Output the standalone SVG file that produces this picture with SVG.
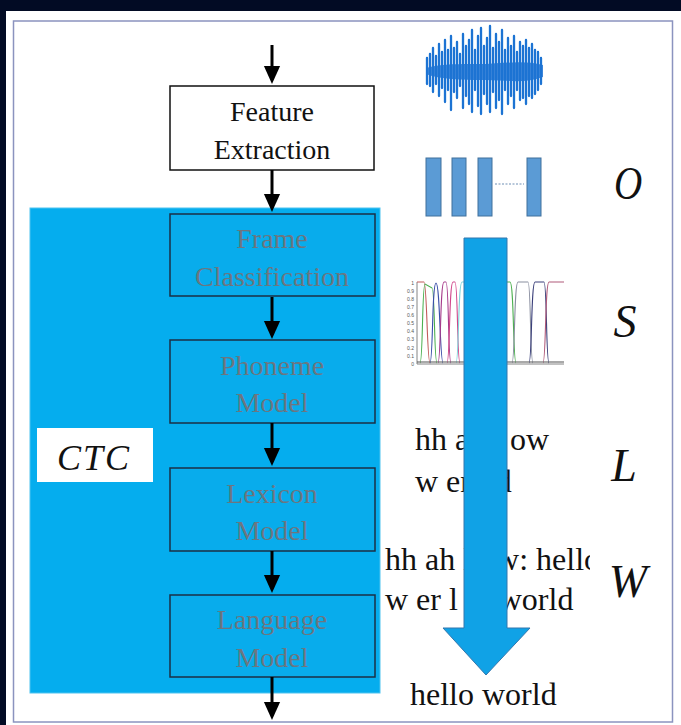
<svg xmlns="http://www.w3.org/2000/svg" width="681" height="725" viewBox="0 0 681 725">
<style>
.box{stroke:#1b2f45;stroke-width:1.5}
.fe{fill:#ffffff;stroke:#111;stroke-width:1.5}
.inner{fill:#08acec}
.bt{font-family:"Liberation Serif","Times New Roman",serif;font-size:28px;text-anchor:middle}
.gt{fill:#6c7680}
.kt{fill:#111}
.txt{font-family:"Liberation Serif","Times New Roman",serif;font-size:32px;fill:#111}
.sym{font-family:"Liberation Serif","Times New Roman",serif;font-style:italic;font-size:46px;fill:#111;text-anchor:middle}
.conn{stroke:#000;stroke-width:3;fill:none}
.bar{fill:#5b9bd5;stroke:#41719c;stroke-width:1}
.crv{fill:none;stroke-width:1.1}
.tick{font-family:"Liberation Sans",sans-serif;font-size:5px;fill:#555;text-anchor:end}
</style>
<defs>
<marker id="ah" markerUnits="userSpaceOnUse" markerWidth="18" markerHeight="20" viewBox="0 0 20 18" refX="0" refY="9" orient="auto">
<path d="M0,0 L20,9 L0,18 z" fill="#000"/>
</marker>
<filter id="blur" x="-10%" y="-10%" width="120%" height="120%"><feGaussianBlur stdDeviation="0.6"/></filter>
<clipPath id="clipTxt"><rect x="380" y="530" width="210" height="60"/></clipPath>
</defs>

<rect x="0" y="0" width="681" height="725" fill="#020b24"/>
<rect x="6" y="11" width="675" height="714" fill="#ffffff"/>
<rect x="13.5" y="21" width="659" height="701" fill="#ffffff" stroke="#8b93bf" stroke-width="1.5"/>

<g id="ctc-region">
<rect x="30" y="208" width="350" height="485" fill="#05adee" stroke="#4fc3f0" stroke-width="1"/>
</g>

<g id="ctc-label">
<rect x="37" y="428" width="116" height="54" fill="#ffffff"/>
<text x="94" y="470" font-family="Liberation Serif, serif" font-style="italic" font-size="36" fill="#111" text-anchor="middle" letter-spacing="2">CTC</text>
</g>

<g id="feature-extraction">
<rect class="fe" x="170" y="86" width="204" height="84"/>
<text class="bt kt" x="272" y="121">Feature</text>
<text class="bt kt" x="272" y="159">Extraction</text>
</g>

<g id="frame-classification">
<rect class="box inner" x="170" y="214" width="205" height="82"/>
<text class="bt gt" x="272" y="248">Frame</text>
<text class="bt gt" x="272" y="286">Classification</text>
</g>

<g id="phoneme-model">
<rect class="box inner" x="170" y="340" width="205" height="83"/>
<text class="bt gt" x="272" y="375">Phoneme</text>
<text class="bt gt" x="272" y="412">Model</text>
</g>

<g id="lexicon-model">
<rect class="box inner" x="170" y="468" width="205" height="83"/>
<text class="bt gt" x="272" y="503">Lexicon</text>
<text class="bt gt" x="272" y="540">Model</text>
</g>

<g id="language-model">
<rect class="box inner" x="170" y="595" width="205" height="82"/>
<text class="bt gt" x="272" y="629">Language</text>
<text class="bt gt" x="272" y="667">Model</text>
</g>

<g id="connectors">
<line class="conn" x1="272" y1="45" x2="272" y2="66" marker-end="url(#ah)"/>
<line class="conn" x1="272" y1="170" x2="272" y2="194" marker-end="url(#ah)"/>
<line class="conn" x1="272" y1="297" x2="272" y2="321" marker-end="url(#ah)"/>
<line class="conn" x1="272" y1="423" x2="272" y2="448" marker-end="url(#ah)"/>
<line class="conn" x1="272" y1="551" x2="272" y2="575" marker-end="url(#ah)"/>
<line class="conn" x1="272" y1="677" x2="272" y2="702" marker-end="url(#ah)"/>
</g>

<g id="waveform" filter="url(#blur)">
<path d="M426,68 C440,63 470,64 486,64 C505,63 525,60 543,65 L543,77 C525,84 505,80 486,80 C470,80 440,80 426,74 Z" fill="#1f73d3" opacity="0.85"/>
<path stroke="#1f73d3" stroke-width="2.3" stroke-linecap="round" fill="none" d="
M427,58 V84 M430,54 V86 M433,48 V92 M436,56 V84 M439,44 V96 M442,52 V88 M445,40 V102 M448,50 V90 M451,36 V110 M454,48 V92
M457,42 V98 M460,54 V86 M463,34 V108 M466,46 V96 M469,40 V104 M472,30 V112 M475,50 V90 M478,36 V106 M481,28 V114 M484,46 V94
M487,38 V104 M490,26 V112 M493,48 V92 M496,34 V108 M499,42 V100 M502,30 V114 M505,50 V90 M508,38 V104 M511,46 V96 M514,36 V108
M517,52 V90 M520,42 V100 M523,46 V98 M526,40 V104 M529,48 V96 M532,44 V98 M535,50 V94 M538,52 V90 M541,58 V84"/>
</g>

<g id="feature-bars">
<rect class="bar" x="426" y="158" width="15" height="58"/>
<rect class="bar" x="452" y="158" width="14" height="58"/>
<rect class="bar" x="478" y="158" width="14" height="58"/>
<rect class="bar" x="527" y="158" width="14" height="58"/>
<line x1="495" y1="184" x2="524" y2="184" stroke="#6f8fb5" stroke-width="1" stroke-dasharray="2,1.5"/>
</g>

<g id="posterior-plot">
<line x1="417" y1="282" x2="417" y2="364" stroke="#666" stroke-width="0.8"/>
<line x1="417" y1="364" x2="564" y2="364" stroke="#666" stroke-width="0.8"/>
<text class="tick" x="414" y="365.5">0</text>
<text class="tick" x="414" y="357.5">0.1</text>
<text class="tick" x="414" y="349.5">0.2</text>
<text class="tick" x="414" y="341">0.3</text>
<text class="tick" x="414" y="333">0.4</text>
<text class="tick" x="414" y="325">0.5</text>
<text class="tick" x="414" y="317">0.6</text>
<text class="tick" x="414" y="309">0.7</text>
<text class="tick" x="414" y="300.5">0.8</text>
<text class="tick" x="414" y="292.5">0.9</text>
<text class="tick" x="414" y="284.5">1</text>
<path class="crv" stroke="#c25a5a" d="M417,282 L424,282 C427,282 427,363 430,363"/>
<path class="crv" stroke="#4caf50" d="M420,363 C423,363 422,284 425,284 L432,288 C435,288 434,363 437,363"/>
<path class="crv" stroke="#3a4fa8" d="M430,363 C433,363 432,283 436,283 C440,283 440,363 443,363"/>
<path class="crv" stroke="#a63a8a" d="M438,363 C441,363 440,282 444,282 L446,282 C449,282 448,363 451,363"/>
<path class="crv" stroke="#d0458a" d="M447,363 C450,363 449,282 453,282 L455,282 C458,282 457,363 460,363"/>
<path class="crv" stroke="#7fd6dc" d="M456,363 C459,363 458,282 462,282 L470,282"/>
<path class="crv" stroke="#4caf50" d="M505,282 L510,282 C514,282 513,363 516,363"/>
<path class="crv" stroke="#8a8fa0" d="M512,363 C515,363 514,282 518,282 L528,282 C531,282 530,363 533,363"/>
<path class="crv" stroke="#3a3f7a" d="M529,363 C532,363 531,282 535,282 L544,282 C547,282 546,363 549,363"/>
<path class="crv" stroke="#b05a7a" d="M543,363 C546,363 545,282 549,282 L564,282"/>
<path class="crv" stroke="#555" d="M417,362 L470,362 M505,362 L564,362" stroke-width="0.6"/>
</g>

<g id="labels">
<text class="txt" x="415" y="450">hh ah l ow</text>
<text class="txt" x="415" y="492">w er l d</text>
<text class="txt" x="385" y="570" clip-path="url(#clipTxt)">hh ah l ow: hello</text>
<text class="txt" x="385" y="610">w er l d: world</text>
<text class="txt" x="410" y="705">hello world</text>
</g>

<g id="flow-arrow">
<path d="M464,238 L507,238 L507,628 L530,628 L486,675 L443,628 L464,628 Z" fill="#10a2e6" stroke="#3377ad" stroke-width="1"/>
</g>

<g id="symbols">
<text class="sym" x="628" y="199" transform="translate(628 0) scale(0.85 1) translate(-628 0)">O</text>
<text class="sym" x="625" y="337">S</text>
<text class="sym" x="624" y="481">L</text>
<text class="sym" x="628" y="597">W</text>
</g>
</svg>
